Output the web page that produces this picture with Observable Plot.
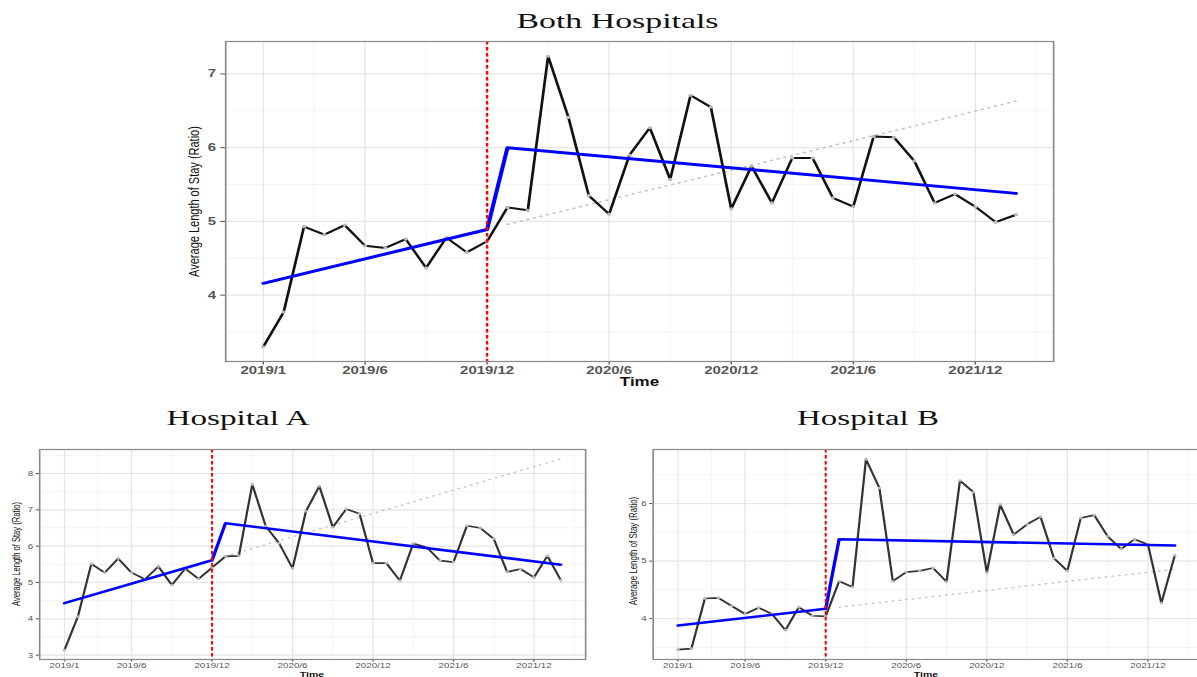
<!DOCTYPE html>
<html><head><meta charset="utf-8">
<script src="https://cdn.jsdelivr.net/npm/d3@7"></script>
<script src="https://cdn.jsdelivr.net/npm/@observablehq/plot@0.6"></script>
<style>
html,body{margin:0;padding:0;background:#fff;}
#wrap{position:relative;width:1197px;height:677px;overflow:hidden;background:#fff;}
#wrap svg.panel{position:absolute;transform-origin:0 0;}
#overlay{position:absolute;left:0;top:0;}
</style></head><body><div id="wrap"></div>
<script>
// ---- data ----
const tickLabels = ["2019/1","2019/6","2019/12","2020/6","2020/12","2021/6","2021/12"];
const tickMonths = [0, 5, 11, 17, 23, 29, 35];           // month index of each tick (0 = 2019/1)
const minorMonths = [2.5, 8, 14, 20, 26, 32, 38];
const interventionMonth = 11;                              // 2019/12
const fitMonths = [0, 11, 12, 37];
const counterMonths = [12, 37];

const bothValues = [3.30,3.77,4.93,4.82,4.95,4.67,4.64,4.76,4.37,4.78,4.58,4.73,
                    5.19,5.15,7.24,6.41,5.35,5.10,5.90,6.27,5.57,6.71,6.55,5.17,
                    5.75,5.25,5.86,5.86,5.32,5.20,6.15,6.14,5.82,5.25,5.37,5.20,
                    4.99,5.09];
const bothFit = [4.16, 4.89, 6.00, 5.38];
const bothCounter = [4.96, 6.63];

const hospAValues = [3.14,4.06,5.51,5.27,5.66,5.27,5.09,5.44,4.93,5.38,5.10,5.41,
                     5.72,5.73,7.70,6.55,6.08,5.39,6.96,7.65,6.52,7.02,6.89,5.53,
                     5.53,5.05,6.07,5.97,5.60,5.56,6.56,6.50,6.20,5.29,5.37,5.14,
                     5.73,5.06];
const hospAFit = [4.43, 5.61, 6.63, 5.49];
const hospACounter = [5.72, 8.40];

const hospBValues = [3.46,3.48,4.35,4.36,4.22,4.08,4.19,4.08,3.80,4.20,4.05,4.04,
                     4.65,4.55,6.77,6.27,4.65,4.81,4.83,4.88,4.64,6.40,6.20,4.80,
                     5.98,5.46,5.64,5.77,5.05,4.83,5.75,5.80,5.43,5.21,5.38,5.29,
                     4.27,5.10];
const hospBFit = [3.88, 4.17, 5.38, 5.27];
const hospBCounter = [4.20, 4.86];

const xDomain = [-1.85, 38.85];

function panel(cfg) {
  const S = cfg.stretch;
  const W0 = (cfg.svgRight - cfg.svgLeft) / S;
  const data = cfg.values.map((v, i) => ({month: i, value: v}));
  const fit = fitMonths.map((m, i) => ({month: m, value: cfg.fit[i]}));
  const cf = counterMonths.map((m, i) => ({month: m, value: cfg.counter[i]}));
  const svg = Plot.plot({
    width: W0,
    height: cfg.svgBottom - cfg.svgTop,
    marginLeft: (cfg.frameLeft - cfg.svgLeft) / S,
    marginRight: (cfg.svgRight - cfg.frameRight) / S,
    marginTop: cfg.frameTop - cfg.svgTop,
    marginBottom: cfg.svgBottom - cfg.frameBottom,
    x: {domain: xDomain, ticks: tickMonths, tickFormat: d => tickLabels[tickMonths.indexOf(d)],
        label: null, tickSize: cfg.tick, tickPadding: cfg.padX},
    y: {domain: cfg.yDomain, ticks: cfg.yTicks, tickFormat: d3.format("d"),
        label: null, tickSize: cfg.tick, tickPadding: cfg.padY},
    style: {fontFamily: "Liberation Sans, Arial, sans-serif", fontSize: cfg.font + "px",
            fontWeight: cfg.weight, color: "#555", background: "white", overflow: "visible"},
    marks: [
      Plot.ruleX(minorMonths.filter(m => m < xDomain[1]), {stroke: "#f2f2f2", strokeWidth: 0.7}),
      Plot.ruleY(cfg.yMinor.filter(v => v > cfg.yDomain[0] && v < cfg.yDomain[1]), {stroke: "#f2f2f2", strokeWidth: 0.8}),
      Plot.ruleX(tickMonths, {stroke: "#e6e6e6", strokeWidth: 1}),
      Plot.ruleY(cfg.yTicks, {stroke: "#e6e6e6", strokeWidth: 1.2}),
      Plot.line(cf, {x: "month", y: "value", stroke: "#c4c4c4", strokeWidth: cfg.lw * 0.8,
                     strokeDasharray: "0.9,4.2"}),
      Plot.line(data, {x: "month", y: "value", stroke: cfg.black, strokeWidth: cfg.lw}),
      Plot.dot(data, {x: "month", y: "value", r: cfg.lw * 0.8, fill: "#b8b8b8", stroke: "none"}),
      Plot.line(fit, {x: "month", y: "value", stroke: "#0000ff", strokeWidth: cfg.lw * 1.5}),
      Plot.ruleX([interventionMonth], {stroke: "#ff0000", strokeWidth: cfg.lw * 0.9, strokeDasharray: "3.5,2.5"}),
      Plot.frame({stroke: "#888", strokeWidth: 1.2})
    ]
  });
  svg.classList.add("panel");
  svg.style.left = cfg.svgLeft + "px";
  svg.style.top = cfg.svgTop + "px";
  svg.style.transform = `scaleX(${S})`;
  return svg;
}

const wrap = document.getElementById("wrap");

wrap.appendChild(panel({
  values: bothValues, fit: bothFit, counter: bothCounter,
  yDomain: [3.10, 7.44], yTicks: [4, 5, 6, 7], yMinor: [3.5, 4.5, 5.5, 6.5, 7.5],
  stretch: 1.36, svgLeft: 150, svgRight: 1065, svgTop: 35, svgBottom: 390,
  frameLeft: 225, frameRight: 1053, frameTop: 41, frameBottom: 361,
  tick: 3.5, padX: 1.5, padY: 3.5, font: 11, weight: "bold", lw: 2, black: "#111"
}));

wrap.appendChild(panel({
  values: hospAValues, fit: hospAFit, counter: hospACounter,
  yDomain: [2.88, 8.66], yTicks: [3, 4, 5, 6, 7, 8], yMinor: [3.5, 4.5, 5.5, 6.5, 7.5, 8.5],
  stretch: 1.32, svgLeft: 0, svgRight: 595, svgTop: 440, svgBottom: 677,
  frameLeft: 39, frameRight: 585, frameTop: 449, frameBottom: 659,
  tick: 2.5, padX: 0.5, padY: 2.5, font: 7.4, weight: "normal", lw: 1.7, black: "#333"
}));

wrap.appendChild(panel({
  values: hospBValues, fit: hospBFit, counter: hospBCounter,
  yDomain: [3.29, 6.94], yTicks: [4, 5, 6], yMinor: [3.5, 4.5, 5.5, 6.5],
  stretch: 1.32, svgLeft: 600, svgRight: 1210, svgTop: 440, svgBottom: 677,
  frameLeft: 652.5, frameRight: 1199, frameTop: 449, frameBottom: 659,
  tick: 2.5, padX: 0.5, padY: 2.5, font: 7.4, weight: "normal", lw: 1.7, black: "#333"
}));

// ---- titles and axis titles ----
const ov = d3.select(wrap).append("svg").attr("id", "overlay")
  .attr("width", 1197).attr("height", 677).style("pointer-events", "none");

const titles = [
  {text: "Both Hospitals", x: 617.5, y: 28, size: 21.5, len: 202},
  {text: "Hospital A", x: 238, y: 425, size: 20, len: 143},
  {text: "Hospital B", x: 868, y: 425, size: 20, len: 142}
];
titles.forEach(t => ov.append("text").text(t.text)
  .attr("x", t.x).attr("y", t.y).attr("text-anchor", "middle")
  .attr("textLength", t.len).attr("lengthAdjust", "spacingAndGlyphs")
  .attr("font-family", "Liberation Serif, Times New Roman, serif")
  .attr("font-size", t.size).attr("fill", "#111"));

const yTitles = [
  {x: 199, y: 201.5, s: 1.36, size: 11},
  {x: 19.5, y: 554, s: 1.32, size: 7.6},
  {x: 636.5, y: 551, s: 1.32, size: 7.9}
];
yTitles.forEach(t => ov.append("text").text("Average Length of Stay (Ratio)")
  .attr("transform", `translate(${t.x},${t.y}) scale(${t.s},1) rotate(-90)`)
  .attr("text-anchor", "middle")
  .attr("font-family", "Liberation Sans, Arial, sans-serif")
  .attr("font-size", t.size).attr("fill", "#111"));

const xTitles = [
  {x: 639.5, y: 386, s: 1.36, size: 12.5},
  {x: 312, y: 676.5, s: 1.32, size: 8},
  {x: 926, y: 676.5, s: 1.32, size: 8}
];
xTitles.forEach(t => ov.append("text").text("Time")
  .attr("transform", `translate(${t.x},${t.y}) scale(${t.s},1)`)
  .attr("text-anchor", "middle").attr("font-weight", "bold")
  .attr("font-family", "Liberation Sans, Arial, sans-serif")
  .attr("font-size", t.size).attr("fill", "#111"));
</script></body></html>
